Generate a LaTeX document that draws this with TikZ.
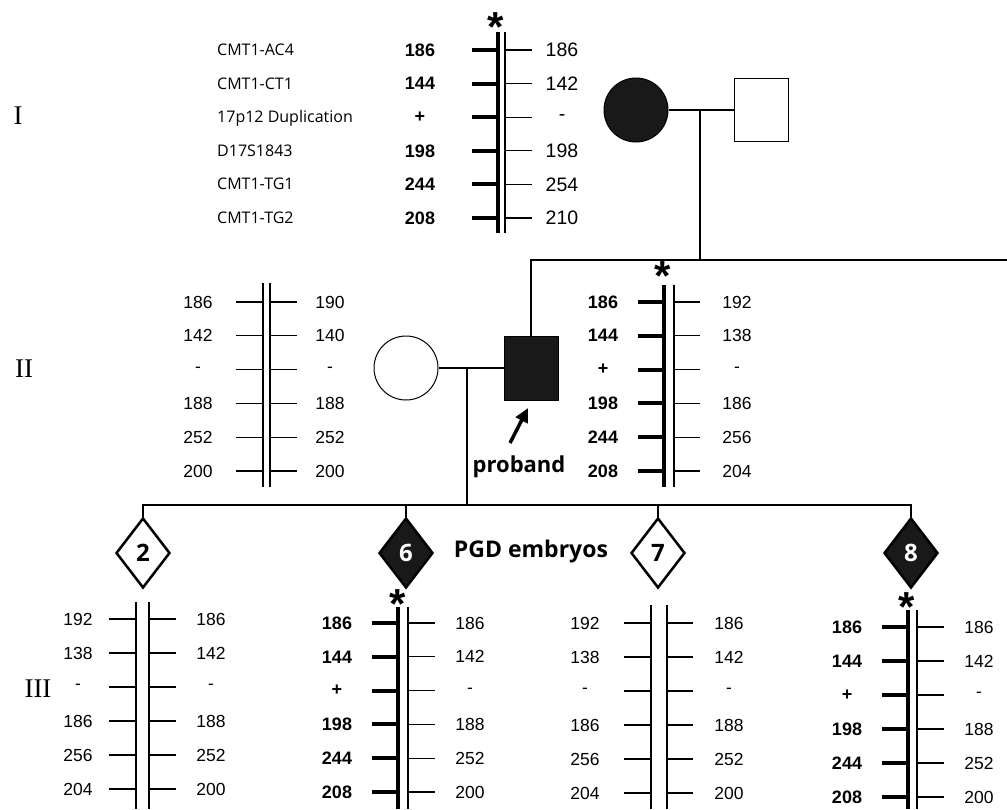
\documentclass[tikz,border=0pt]{standalone}
\usepackage{fontspec}
\newfontfamily\allelefont{Liberation Sans}
\newfontfamily\markerfont{Open Sans}
\newfontfamily\genfont{Liberation Serif}
\usetikzlibrary{shapes.geometric, arrows.meta, positioning}

\begin{document}
\begin{tikzpicture}[
    x=1pt, y=-1pt,
    allele/.style={inner sep=0, font=\allelefont\fontsize{17.5}{20}\selectfont},
    boldallele/.style={inner sep=0, font=\allelefont\bfseries\fontsize{18}{20}\selectfont},
    marker/.style={inner sep=0, anchor=base west, font=\markerfont\fontsize{16}{18}\selectfont},
    genlabel/.style={inner sep=0, font=\genfont\fontsize{27}{30}\selectfont},
    caption/.style={inner sep=0, anchor=base, font=\markerfont\bfseries\fontsize{22}{24}\selectfont},
    chrom/.style={line width=1.2pt},
    affchrom/.style={line width=4pt},
    pedline/.style={line width=1.2pt},
    female/.style={circle, draw, line width=1pt, minimum size=64pt, inner sep=0},
    male/.style={rectangle, draw, line width=1pt, minimum width=54pt, minimum height=63pt, inner sep=0},
    embryo/.style={diamond, draw, line width=2.5pt, minimum width=54pt, minimum height=70pt, inner sep=0, font=\markerfont\bfseries\fontsize{24}{24}\selectfont},
    affected/.style={fill=black!90},
    star/.style={inner sep=0, anchor=north, font=\allelefont\bfseries\fontsize{42}{42}\selectfont},
    pointer/.style={-{Triangle[length=14pt, width=13pt]}, line width=3.5pt}
]

\useasboundingbox (0,0) rectangle (1007,809);

% Generation I
\node[genlabel] (gI) at (18,116) {I};
\node[female, affected] (mother) at (636,110) {};
\node[male, right=65pt of mother] (father) {};
\draw[pedline] (mother) -- (father);
\coordinate (mar1) at (700,110);
\coordinate (sib1) at (1007,260);

% Generation II
\node[genlabel] (gII) at (24,369) {II};
\node[male, affected, minimum height=64pt] (proband) at (531,368) {};
\node[female, left=65pt of proband] (wife) {};
\draw[pedline] (wife) -- (proband);
\draw[pedline] (proband.north) |- (sib1);
\draw[pedline] (mar1) -- (mar1 |- sib1);
\node[caption] (plabel) at (519,472) {proband};
\coordinate (ptail) at (510,443);
\coordinate (ptip) at (528,408);
\draw[pointer] (ptail) -- (ptip);
\coordinate (mar2) at (467,368);

% Generation III
\node[genlabel] (gIII) at (38,689) {III};
\node[embryo] (e2) at (143,553) {2};
\node[embryo, affected, text=white] (e6) at (406,553) {6};
\node[embryo] (e7) at (658,553) {7};
\node[embryo, affected, text=white] (e8) at (911,553) {8};
\coordinate (sib2) at (467,505);
\draw[pedline] (mar2) -- (sib2);
\draw[pedline] (e2.north) |- (sib2) -| (e8.north);
\draw[pedline] (e6.north) -- (e6.north |- sib2);
\draw[pedline] (e7.north) -- (e7.north |- sib2);
\node[caption, font=\markerfont\bfseries\fontsize{23}{24}\selectfont] (pgd) at (531,557) {PGD embryos};

% Haplotype of the mother
\node[star] (s1) at (496,12) {*};
\draw[affchrom] (498,32) -- (498,233);
\draw[chrom] (505,32) -- (505,233);
\foreach \m/\a/\b [count=\i from 0] in {CMT1-AC4/186/186, CMT1-CT1/144/142, 17p12 Duplication/+/-, D17S1843/198/198, CMT1-TG1/244/254, CMT1-TG2/208/210}{
  \node[marker] (mk\i) at (217,55.5+33.6*\i) {\m};
  \node[boldallele] (ma\i) at (420,50+33.6*\i) {\a};
  \draw[affchrom] (472,50+33.6*\i) -- (498,50+33.6*\i);
  \draw[chrom] (505,50+33.6*\i) -- ++(27,0);
  \node[allele, font=\allelefont\fontsize{19.5}{20}\selectfont] (mb\i) at (562,50+33.6*\i) {\b};
}

% Haplotype of the wife
\draw[chrom] (263,283) -- (263,487);
\draw[chrom] (270,283) -- (270,487);
\foreach \a/\b [count=\i from 0] in {186/190, 142/140, -/-, 188/188, 252/252, 200/200}{
  \node[allele] (wa\i) at (198,302+33.8*\i) {\a};
  \draw[chrom] (236,302+33.8*\i) -- (263,302+33.8*\i);
  \draw[chrom] (270,302+33.8*\i) -- ++(27,0);
  \node[allele] (wb\i) at (330,302+33.8*\i) {\b};
}

% Haplotype of the proband
\node[star] (s2) at (663,261) {*};
\draw[affchrom] (664,285) -- (664,487);
\draw[chrom] (674,285) -- (674,487);
\foreach \a/\b [count=\i from 0] in {186/192, 144/138, +/-, 198/186, 244/256, 208/204}{
  \node[boldallele] (pa\i) at (603,302+33.8*\i) {\a};
  \draw[affchrom] (638,302+33.8*\i) -- (664,302+33.8*\i);
  \draw[chrom] (674,302+33.8*\i) -- ++(26,0);
  \node[allele] (pb\i) at (737,302+33.8*\i) {\b};
}

% Embryo 2
\draw[chrom] (136,602) -- (136,809);
\draw[chrom] (149,602) -- (149,809);
\foreach \a/\b [count=\i from 0] in {192/186, 138/142, -/-, 186/188, 256/252, 204/200}{
  \node[allele] (ea\i) at (78,619+34*\i) {\a};
  \draw[chrom] (109,619+34*\i) -- (136,619+34*\i);
  \draw[chrom] (149,619+34*\i) -- ++(27,0);
  \node[allele] (eb\i) at (211,619+34*\i) {\b};
}

% Embryo 6
\node[star] (s6) at (398,589) {*};
\draw[affchrom] (398,607) -- (398,809);
\draw[chrom] (408,607) -- (408,809);
\foreach \a/\b [count=\i from 0] in {186/186, 144/142, +/-, 198/188, 244/252, 208/200}{
  \node[boldallele] (fa\i) at (337,623+33.8*\i) {\a};
  \draw[affchrom] (372,623+33.8*\i) -- (398,623+33.8*\i);
  \draw[chrom] (408,623+33.8*\i) -- ++(27,0);
  \node[allele] (fb\i) at (470,623+33.8*\i) {\b};
}

% Embryo 7
\draw[chrom] (651,605) -- (651,809);
\draw[chrom] (667,605) -- (667,809);
\foreach \a/\b [count=\i from 0] in {192/186, 138/142, -/-, 186/188, 256/252, 204/200}{
  \node[allele] (ga\i) at (585,623+34*\i) {\a};
  \draw[chrom] (624,623+34*\i) -- (651,623+34*\i);
  \draw[chrom] (667,623+34*\i) -- ++(26,0);
  \node[allele] (gb\i) at (729,623+34*\i) {\b};
}

% Embryo 8
\node[star] (s8) at (907,592) {*};
\draw[affchrom] (908,610) -- (908,809);
\draw[chrom] (917,610) -- (917,809);
\foreach \a/\b [count=\i from 0] in {186/186, 144/142, +/-, 198/188, 244/252, 208/200}{
  \node[boldallele] (ha\i) at (847,627+34*\i) {\a};
  \draw[affchrom] (882,627+34*\i) -- (908,627+34*\i);
  \draw[chrom] (917,627+34*\i) -- ++(27,0);
  \node[allele] (hb\i) at (979,627+34*\i) {\b};
}

\end{tikzpicture}
\end{document}
